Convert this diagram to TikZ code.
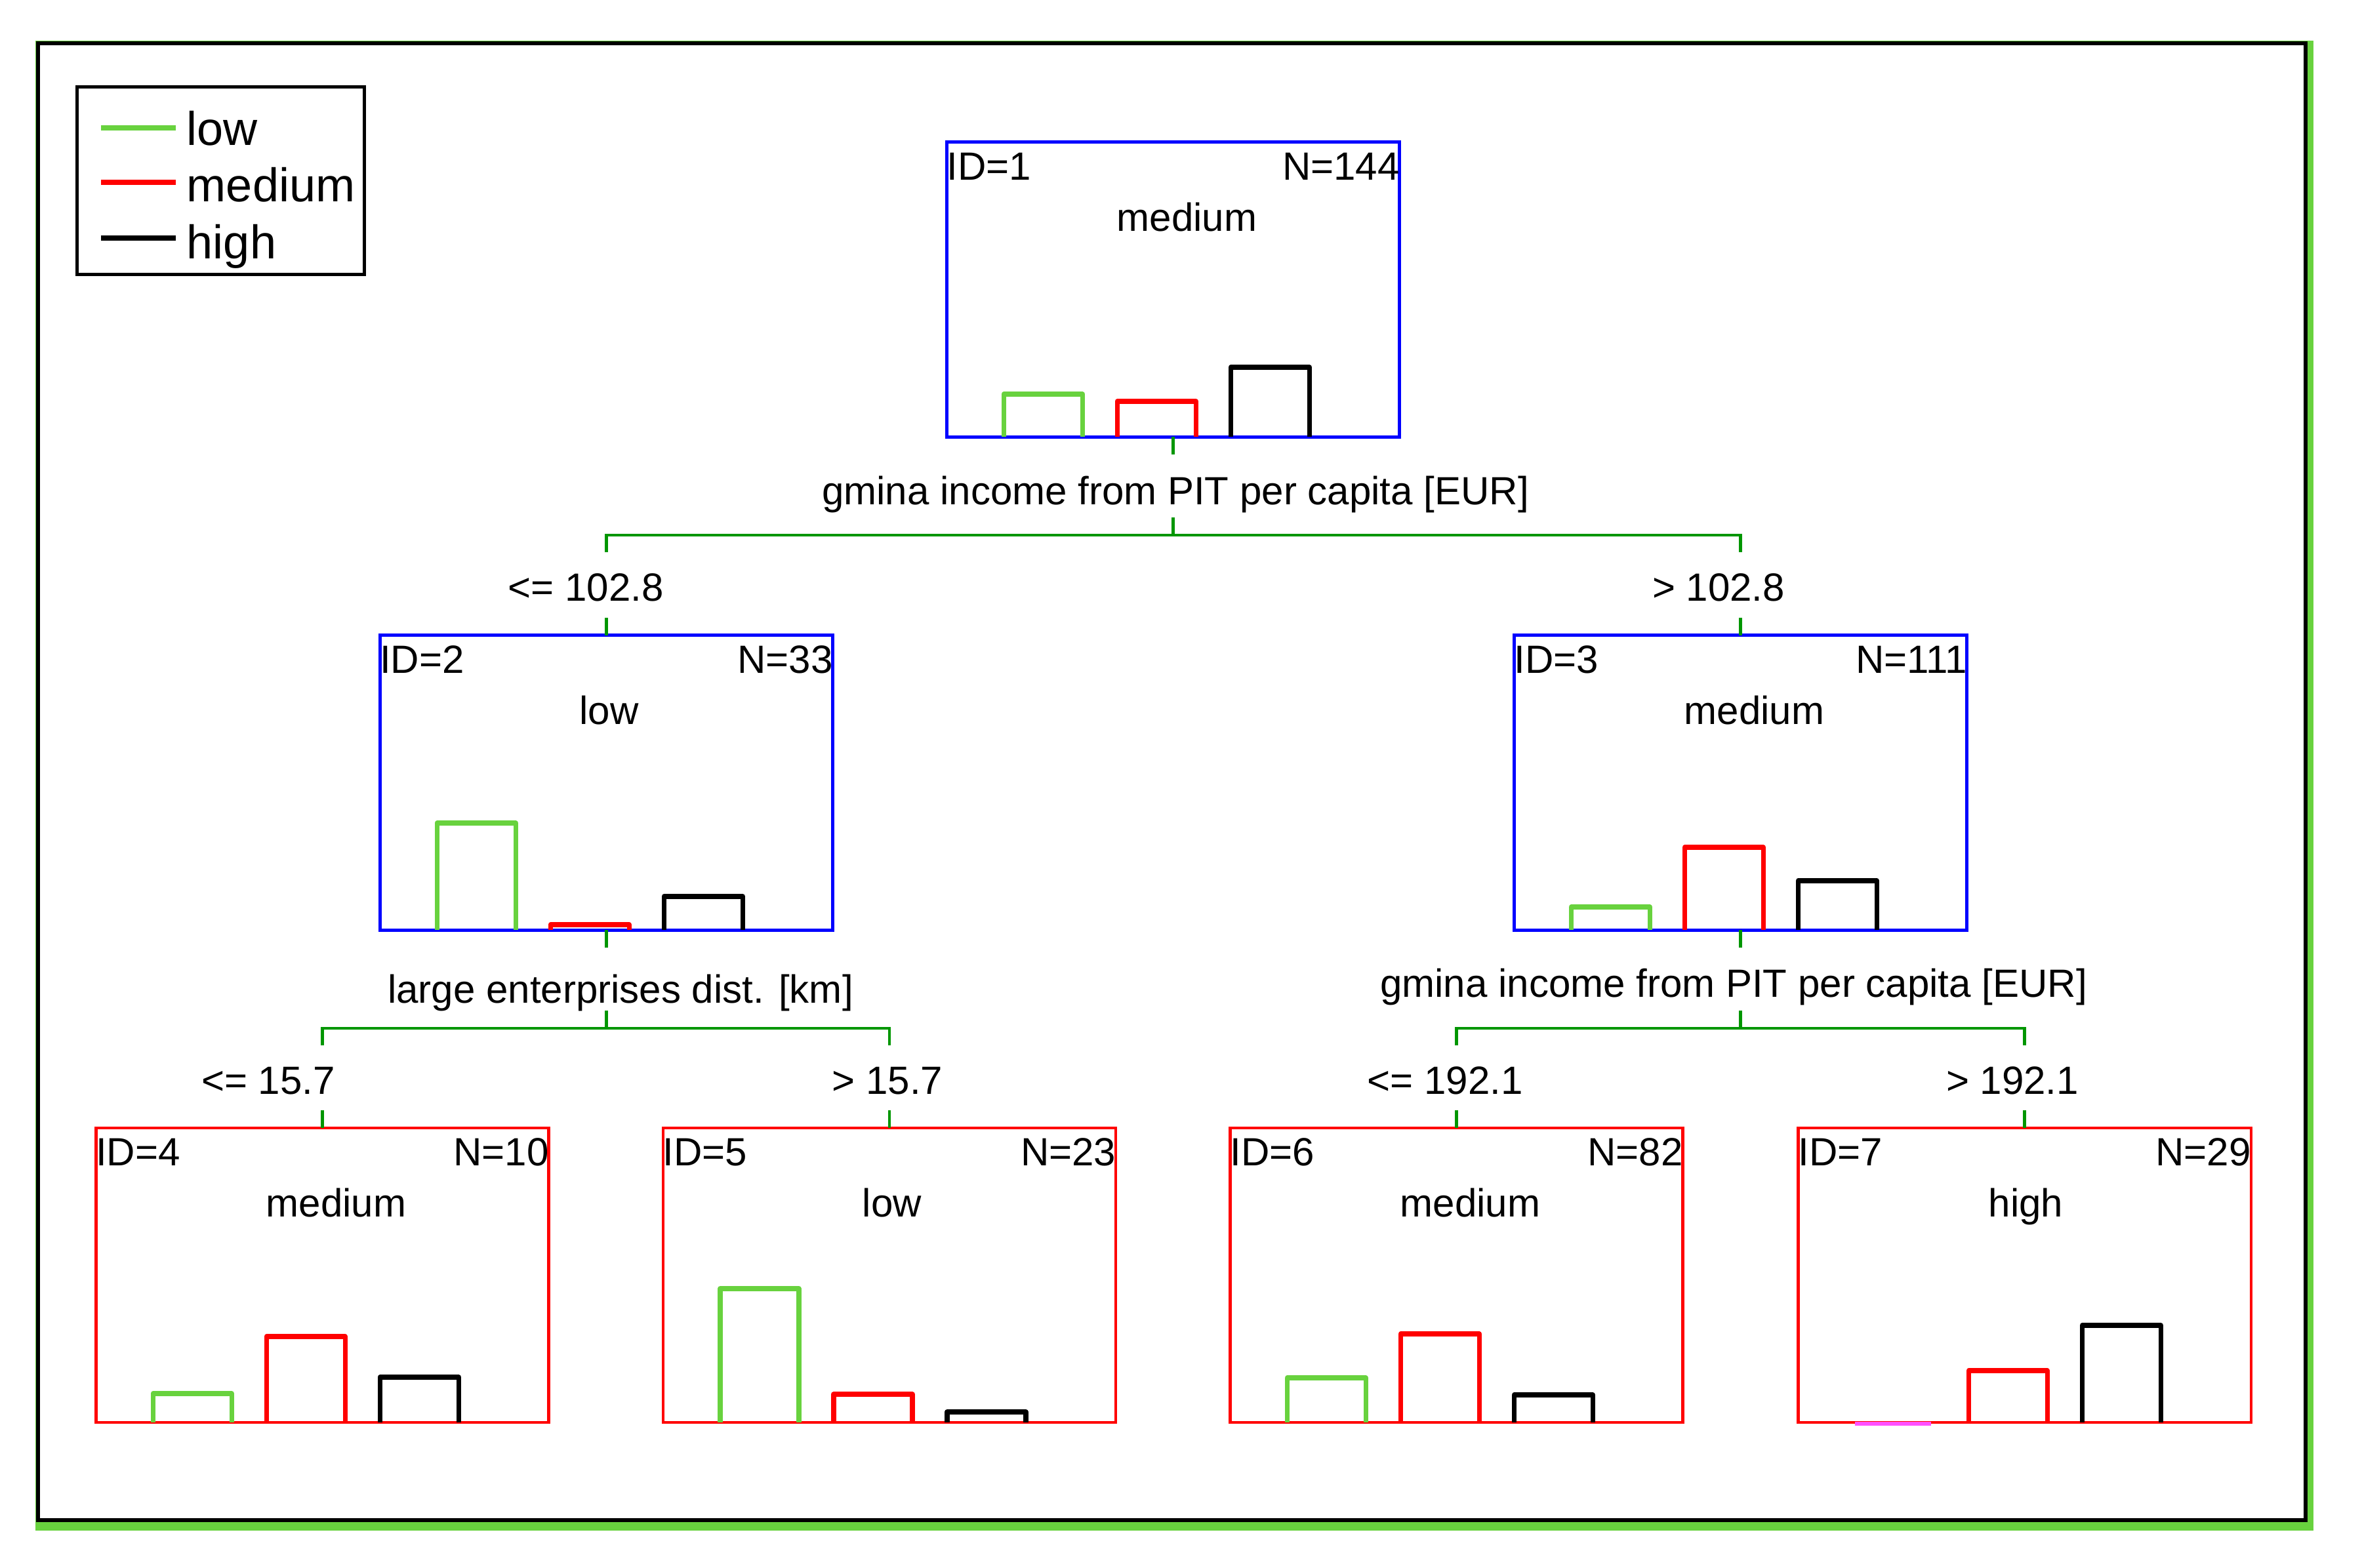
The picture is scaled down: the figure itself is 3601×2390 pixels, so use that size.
\documentclass[tikz,border=0pt]{standalone}
\usepackage{fontspec}
\setmainfont{Liberation Sans}
\usetikzlibrary{calc}
\definecolor{lgreen}{RGB}{104,210,62}
\definecolor{dgreen}{RGB}{0,150,0}
\definecolor{magn}{RGB}{255,80,255}
\tikzset{
 innerbox/.style={draw=blue, line width=0.05cm, rectangle, minimum width=6.9cm, minimum height=4.49cm, inner sep=0pt, outer sep=0pt},
 leafbox/.style={innerbox, draw=red, line width=0.045cm},
 txt/.style={inner sep=0pt, outer sep=0pt, font=\fontsize{17.07pt}{20pt}\selectfont},
 legtxt/.style={inner sep=0pt, outer sep=0pt, font=\fontsize{20.5pt}{24pt}\selectfont},
 conn/.style={draw=dgreen, line width=0.045cm},
 bar/.style={line width=0.075cm, line join=round},
}
\newcommand\treenode[8]{%
 \node[#4] (#1) at (#2,#3) {};
 \node[txt, anchor=base west] (#1id) at ($(#1.north west)+(0,58)$) {ID=#5};
 \node[txt, anchor=base east] (#1n) at ($(#1.north east)+(0,58)$) {N=#6};
 \node[txt, anchor=base] (#1lab) at ($(#1.north)+(#8,136)$) {#7};
}
\newcommand\treebars[4]{%
 \draw[bar, lgreen] ($(#1.south west)+(87,0)$) -- ++(0,-#2) -- ++(120,0) -- ++(0,#2);
 \draw[bar, red] ($(#1.south west)+(260,0)$) -- ++(0,-#3) -- ++(120,0) -- ++(0,#3);
 \draw[bar, black] ($(#1.south west)+(433,0)$) -- ++(0,-#4) -- ++(120,0) -- ++(0,#4);
}
\begin{document}
\begin{tikzpicture}[x=0.01cm,y=-0.01cm]
\useasboundingbox (0,0) rectangle (3601,2390);
\fill[white] (0,0) rectangle (3601,2390);
% outer frame
\fill[lgreen] (54,62) rectangle (3527,2334);
\draw[line width=0.06cm, fill=white] (58,66) rectangle (3515,2318);

% legend
\node[draw, line width=0.05cm, minimum width=4.37cm, minimum height=2.85cm, inner sep=0pt, outer sep=0pt] (leg) at (336.5,275.5) {};
\draw[line width=0.08cm, lgreen] ($(leg.north west)+(36,62)$) -- ++(114,0);
\draw[line width=0.08cm, red] ($(leg.north west)+(36,145)$) -- ++(114,0);
\draw[line width=0.08cm, black] ($(leg.north west)+(36,230)$) -- ++(114,0);
\node[legtxt, anchor=base west] (lg1) at ($(leg.north west)+(167,89)$) {low};
\node[legtxt, anchor=base west] (lg2) at ($(leg.north west)+(167,175)$) {medium};
\node[legtxt, anchor=base west] (lg3) at ($(leg.north west)+(167,262)$) {high};

% nodes
\treenode{n1}{1788.5}{441.5}{innerbox}{1}{144}{medium}{21}
\treenode{n2}{924.5}{1193.5}{innerbox}{2}{33}{low}{4}
\treenode{n3}{2653.5}{1193.5}{innerbox}{3}{111}{medium}{21}
\treenode{n4}{491.5}{1944.5}{leafbox}{4}{10}{medium}{21}
\treenode{n5}{1356}{1944.5}{leafbox}{5}{23}{low}{4}
\treenode{n6}{2220.5}{1944.5}{leafbox}{6}{82}{medium}{21}
\treenode{n7}{3086.5}{1944.5}{leafbox}{7}{29}{high}{2}

\treebars{n1}{65}{54}{106}
\treebars{n2}{163}{8}{51}
\treebars{n3}{35}{126}{75}
\treebars{n4}{44}{131}{69}
\treebars{n5}{204}{43}{16}
\treebars{n6}{68}{135}{42}
\draw[line width=0.06cm, magn] ($(n7.south west)+(87,2)$) -- ++(116,0);
\draw[bar, red] ($(n7.south west)+(260,0)$) -- ++(0,-79) -- ++(120,0) -- ++(0,79);
\draw[bar, black] ($(n7.south west)+(433,0)$) -- ++(0,-148) -- ++(120,0) -- ++(0,148);

% split 1
\draw[conn] (n1.south) -- ++(0,27);
\node[txt, anchor=base] (s1) at (1792,769) {gmina income from PIT per capita [EUR]};
\draw[conn] (n1.south) ++(0,123) -- ++(0,27) coordinate (j1);
\draw[conn] (n2.north |- j1) ++(0,26) -- (n2.north |- j1) -- (n3.north |- j1) -- ++(0,26);
\node[txt, anchor=base] (e2) at (893,916) {<= 102.8};
\node[txt, anchor=base] (e3) at (2620,916) {> 102.8};
\draw[conn] (n2.north) -- ++(0,-27);
\draw[conn] (n3.north) -- ++(0,-27);

% split 2
\draw[conn] (n2.south) -- ++(0,27);
\node[txt, anchor=base] (s2) at (946,1529) {large enterprises dist. [km]};
\draw[conn] (n2.south) ++(0,123) -- ++(0,27) coordinate (j2);
\draw[conn] (n4.north |- j2) ++(0,26) -- (n4.north |- j2) -- (n5.north |- j2) -- ++(0,26);
\node[txt, anchor=base] (e4) at (409,1668) {<= 15.7};
\node[txt, anchor=base] (e5) at (1353,1668) {> 15.7};
\draw[conn] (n4.north) -- ++(0,-27);
\draw[conn] (n5.north) -- ++(0,-27);

% split 3
\draw[conn] (n3.south) -- ++(0,27);
\node[txt, anchor=base] (s3) at (2643,1520) {gmina income from PIT per capita [EUR]};
\draw[conn] (n3.south) ++(0,123) -- ++(0,27) coordinate (j3);
\draw[conn] (n6.north |- j3) ++(0,26) -- (n6.north |- j3) -- (n7.north |- j3) -- ++(0,26);
\node[txt, anchor=base] (e6) at (2203,1668) {<= 192.1};
\node[txt, anchor=base] (e7) at (3068,1668) {> 192.1};
\draw[conn] (n6.north) -- ++(0,-27);
\draw[conn] (n7.north) -- ++(0,-27);
\end{tikzpicture}
\end{document}
